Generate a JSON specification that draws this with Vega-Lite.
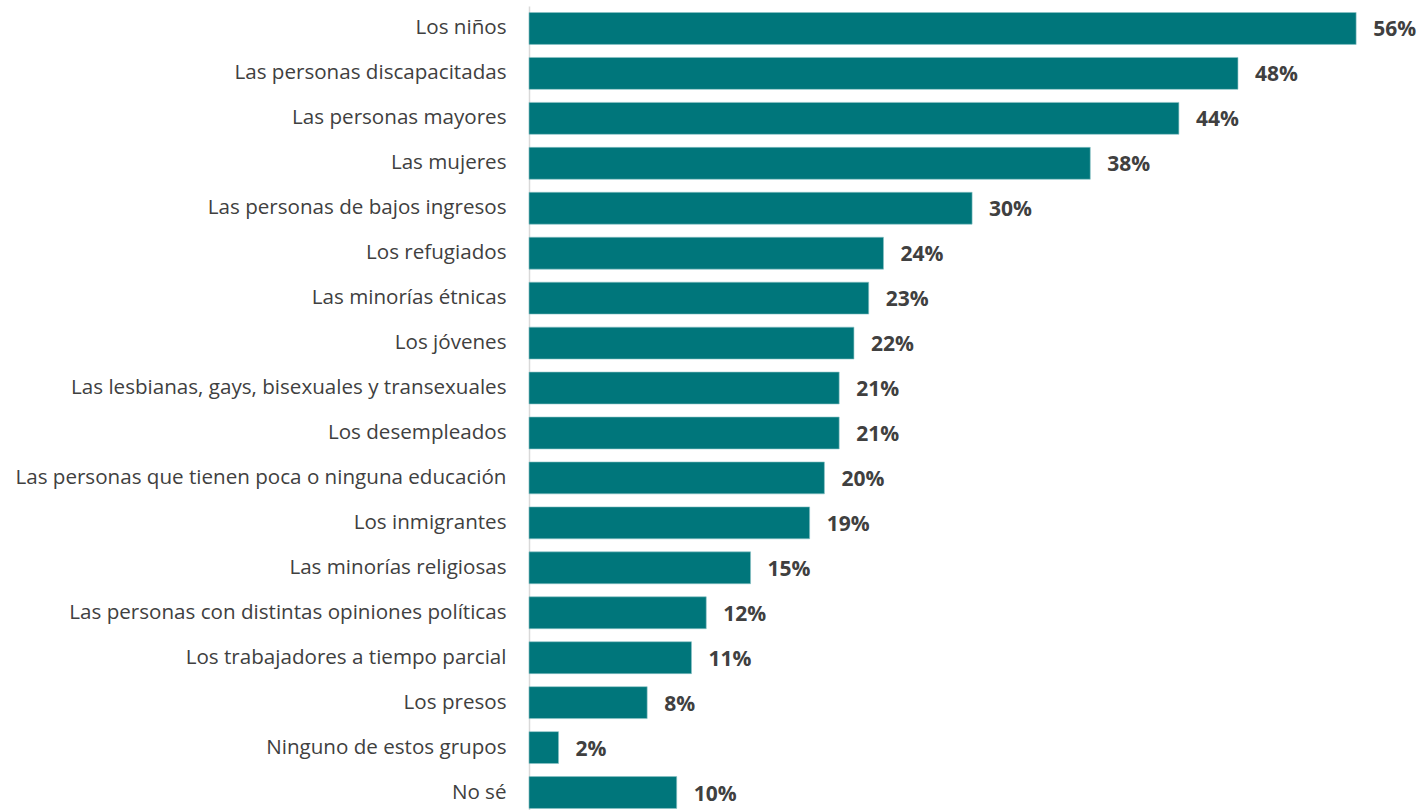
{
  "$schema": "https://vega.github.io/schema/vega-lite/v6.json",
  "autosize": {"type": "none"},
  "padding": {"left": 529, "top": 6, "right": 0, "bottom": 0},
  "width": 893,
  "height": 809,
  "background": "white",
  "config": {"view": {"stroke": null}, "font": "Open Sans"},
  "data": {"values": [
    {"grupo": "Los niños", "pct": 56, "etiqueta": "56%"},
    {"grupo": "Las personas discapacitadas", "pct": 48, "etiqueta": "48%"},
    {"grupo": "Las personas mayores", "pct": 44, "etiqueta": "44%"},
    {"grupo": "Las mujeres", "pct": 38, "etiqueta": "38%"},
    {"grupo": "Las personas de bajos ingresos", "pct": 30, "etiqueta": "30%"},
    {"grupo": "Los refugiados", "pct": 24, "etiqueta": "24%"},
    {"grupo": "Las minorías étnicas", "pct": 23, "etiqueta": "23%"},
    {"grupo": "Los jóvenes", "pct": 22, "etiqueta": "22%"},
    {"grupo": "Las lesbianas, gays, bisexuales y transexuales", "pct": 21, "etiqueta": "21%"},
    {"grupo": "Los desempleados", "pct": 21, "etiqueta": "21%"},
    {"grupo": "Las personas que tienen poca o ninguna educación", "pct": 20, "etiqueta": "20%"},
    {"grupo": "Los inmigrantes", "pct": 19, "etiqueta": "19%"},
    {"grupo": "Las minorías religiosas", "pct": 15, "etiqueta": "15%"},
    {"grupo": "Las personas con distintas opiniones políticas", "pct": 12, "etiqueta": "12%"},
    {"grupo": "Los trabajadores a tiempo parcial", "pct": 11, "etiqueta": "11%"},
    {"grupo": "Los presos", "pct": 8, "etiqueta": "8%"},
    {"grupo": "Ninguno de estos grupos", "pct": 2, "etiqueta": "2%"},
    {"grupo": "No sé ", "pct": 10, "etiqueta": "10%"}
  ]},
  "encoding": {
    "y": {
      "field": "grupo", "type": "nominal", "sort": null,
      "scale": {"paddingInner": 0.29, "paddingOuter": 0.145},
      "axis": {
        "title": null, "ticks": false, "domain": true, "domainColor": "#d9d9d9", "domainWidth": 1.5,
        "labelPadding": 23, "labelFontSize": 20.6, "labelColor": "#404040", "labelLimit": 600,
        "labelFont": "Open Sans"
      }
    },
    "x": {
      "field": "pct", "type": "quantitative",
      "scale": {"domain": [0, 60.46], "nice": false},
      "axis": null
    }
  },
  "layer": [
    {"mark": {"type": "bar", "color": "#00767B", "stroke": "#8cc3c6", "strokeWidth": 0.6}},
    {
      "mark": {"type": "text", "align": "left", "baseline": "middle", "dx": 17, "dy": 2, "fontSize": 21, "fontWeight": "bold", "color": "#404040", "font": "Open Sans"},
      "encoding": {"text": {"field": "etiqueta", "type": "nominal"}}
    }
  ]
}
